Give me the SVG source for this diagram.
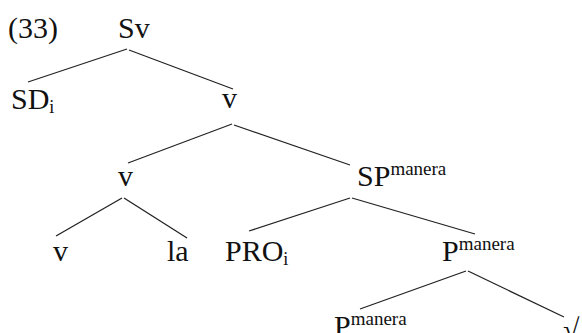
<svg xmlns="http://www.w3.org/2000/svg" width="582" height="333" viewBox="0 0 582 333">
<style>
.t{fill:#111;font-size:30px}
.s{font-size:19px}
.sub{font-size:18px}
#edges line{stroke:#222;stroke-width:1.3}
</style>
<rect width="582" height="333" fill="#fff"/>
<g id="edges">
<line x1="127" y1="49" x2="28" y2="82"/>
<line x1="129" y1="50" x2="233" y2="89"/>
<line x1="232" y1="124" x2="128" y2="163"/>
<line x1="234" y1="125" x2="350" y2="165"/>
<line x1="122" y1="198" x2="56" y2="236"/>
<line x1="124" y1="198" x2="187" y2="238"/>
<line x1="350" y1="198" x2="249" y2="231"/>
<line x1="352" y1="198" x2="475" y2="234"/>
<line x1="466" y1="271" x2="360" y2="309"/>
<line x1="468" y1="271" x2="564" y2="317"/>
</g>
<g id="label"><text class="t" font-family="Liberation Serif" x="8" y="38">(33)</text></g>
<g id="n-Sv"><text class="t" font-family="Liberation Serif" x="118" y="38">Sv</text></g>
<g id="n-SD"><text class="t" font-family="Liberation Serif" x="11" y="109">SD<tspan class="sub" dy="4">i</tspan></text></g>
<g id="n-v1"><text class="t" font-family="Liberation Serif" x="222" y="108">v</text></g>
<g id="n-v2"><text class="t" font-family="Liberation Serif" x="118" y="186">v</text></g>
<g id="n-SP"><text class="t" font-family="Liberation Serif" x="357" y="186">SP<tspan class="s" dy="-11">manera</tspan></text></g>
<g id="n-v3"><text class="t" font-family="Liberation Serif" x="53" y="261">v</text></g>
<g id="n-la"><text class="t" font-family="Liberation Serif" x="167" y="261">la</text></g>
<g id="n-PRO"><text class="t" font-family="Liberation Serif" x="225" y="261">PRO<tspan class="sub" dy="4">i</tspan></text></g>
<g id="n-P1"><text class="t" font-family="Liberation Serif" x="442" y="261">P<tspan class="s" dy="-11">manera</tspan></text></g>
<g id="n-P2"><text class="t" font-family="Liberation Serif" x="334" y="336">P<tspan class="s" dy="-11">manera</tspan></text></g>
<g id="n-root"><text class="t" font-family="Liberation Serif" x="563" y="340">√</text></g>
</svg>
